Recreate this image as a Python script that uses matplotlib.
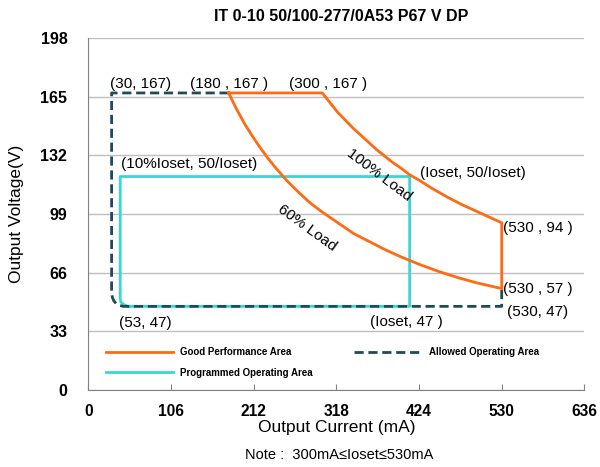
import numpy as np
import matplotlib.pyplot as plt

plt.rcParams['font.family'] = ['Liberation Sans', 'DejaVu Sans']

# x / y ticks
x_ticks = [0, 106, 212, 318, 424, 530, 636]
y_ticks = [0, 33, 66, 99, 132, 165, 198]

# Good performance area (orange): 100% load curve and 60% load curve
load100_i = [300, 310, 320, 330, 340, 350, 360, 370, 380, 390, 400, 412, 424, 440,
             460, 480, 500, 515, 530]
load100_v = [167, 161.5, 156, 151.5, 147, 143, 139, 135, 131.5, 128, 125, 121, 118, 113.5,
             108.5, 104, 100, 97, 94]
load60_i = [180, 190, 200, 210, 220, 230, 240, 255, 270, 285, 300, 320, 340, 360, 380,
            400, 425, 450, 475, 500, 530]
load60_v = [167, 158, 150, 143, 136.5, 130.5, 125, 117.5, 111, 105, 100, 94, 88, 83.5, 79,
            75, 70.5, 66.5, 63, 60, 57]

# Allowed operating area (dashed)
allowed_i = [180, 30, 30, 31, 33, 36, 40, 45, 530, 530]
allowed_v = [167, 167, 55, 52, 50, 48.5, 47.5, 47, 47, 57]

# Programmed operating area (cyan)
prog_i = [53, 412, 412, 41, 41, 42, 44, 47, 50, 53]
prog_v = [47, 47, 120, 120, 51, 49.5, 48.5, 47.7, 47.2, 47]

orange = '#FF6A13'
teal = '#1D4B57'
cyan = '#3AD6D4'

fig = plt.figure(figsize=(6.0, 4.67), dpi=100)
ax = fig.add_axes([0.147, 0.165, 0.827, 0.754])

# orange outline
good_i = [180] + load100_i + load100_i[-1:] + load60_i[::-1]
good_v = [167] + load100_v + [57] + load60_v[::-1]
ax.plot(good_i, good_v, color=orange, lw=2, solid_joinstyle='miter', label='Good Performance Area', zorder=3)
ax.plot(prog_i, prog_v, color=cyan, lw=2, label='Programmed Operating Area', zorder=2)
ax.plot(allowed_i, allowed_v, color=teal, lw=2, ls=(0, (3.3, 1.7)), label='Allowed Operating Area', zorder=2)

ax.set_xlim(0, 636)
ax.set_ylim(0, 198)
ax.set_xticks(x_ticks)
ax.set_yticks(y_ticks)
ax.set_xticklabels([str(t) for t in x_ticks], fontweight='bold', fontsize=11.2)
ax.set_yticklabels([str(t) for t in y_ticks], fontweight='bold', fontsize=11.5)
ax.tick_params(axis='x', direction='in', length=4, color='#808080', pad=10)
ax.tick_params(axis='y', length=0, pad=15)
ax.grid(axis='y', color='#BFBFBF', lw=1)
for s in ['top', 'right']:
    ax.spines[s].set_visible(False)
for s in ['left', 'bottom']:
    ax.spines[s].set_color('#808080')
ax.set_axisbelow(True)

ax.set_title('IT 0-10 50/100-277/0A53 P67 V DP', fontweight='bold', fontsize=11.5, pad=12, x=0.51)
ax.set_ylabel('Output Voltage(V)', fontsize=12.5, labelpad=12)
ax.set_xlabel('Output Current (mA)', fontsize=12.5, labelpad=1)
fig.text(0.565, 0.018, 'Note :  300mA\u2264Ioset\u2264530mA', ha='center', fontsize=10.5)

fs = 11
ax.text(28, 172, '(30, 167)', fontsize=fs, va='center')
ax.text(130, 172, '(180 , 167 )', fontsize=fs, va='center')
ax.text(258, 172, '(300 , 167 )', fontsize=fs, va='center')
ax.text(42, 127, '(10%Ioset, 50/Ioset)', fontsize=fs, va='center')
ax.text(425, 122, '(Ioset, 50/Ioset)', fontsize=fs, va='center')
ax.text(532, 91, '(530 , 94 )', fontsize=fs, va='center')
ax.text(532, 57, '(530 , 57 )', fontsize=fs, va='center')
ax.text(537, 44, '(530, 47)', fontsize=fs, va='center')
ax.text(39, 37.5, '(53, 47)', fontsize=fs, va='center')
ax.text(361, 38, '(Ioset, 47 )', fontsize=fs, va='center')
ax.text(373, 121, '100% Load', fontsize=fs, rotation=-37, ha='center', va='center', rotation_mode='anchor')
ax.text(281, 91, '60% Load', fontsize=fs, rotation=-36, ha='center', va='center', rotation_mode='anchor')

h, l = ax.get_legend_handles_labels()
leg = ax.legend(h, l, ncol=2, loc='upper left',
                bbox_to_anchor=(0.035, 0.122), frameon=False, handlelength=6.9,
                columnspacing=4.2, labelspacing=1.1, borderpad=0, borderaxespad=0,
                prop={'size': 7, 'weight': 'bold'})

fig.savefig('out.png', dpi=100)
